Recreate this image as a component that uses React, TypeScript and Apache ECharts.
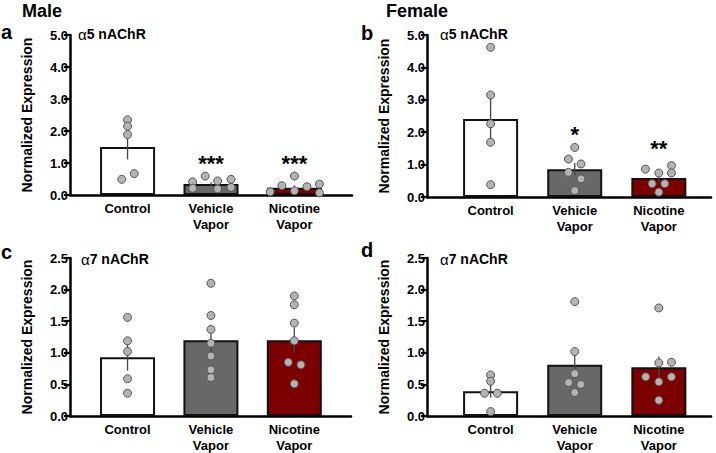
import React, { useEffect, useRef } from "react";
import * as echarts from "echarts";

const categories = ["Control", "Vehicle\nVapor", "Nicotine\nVapor"];
const barColors = ["#ffffff", "#686868", "#7d0000"];

// Panel a: Male α5
const aMeans = [1.5, 0.34, 0.23];
const aSem = [0.39, 0.06, 0.07];
const aDots = [
  [[0, 2.35], [0, 2.15], [0, 1.89], [0.08, 0.67], [-0.07, 0.49]],
  [[-0.22, 0.41], [-0.07, 0.59], [0.08, 0.44], [0.24, 0.49], [-0.22, 0.21], [0.08, 0.19], [0.24, 0.24]],
  [[-0.29, 0.1], [-0.15, 0.29], [0, 0.59], [0, 0.13], [0.15, 0.26], [0.3, 0.34], [0.3, 0.07]],
];
const aStars = ["", "***", "***"];
const aStarY = [0, 0.98, 0.98];

// Panel b: Female α5
const bMeans = [2.41, 0.86, 0.585];
const bSem = [0.71, 0.19, 0.11];
const bDots = [
  [[0, 4.62], [0, 3.15], [0, 2.26], [0, 1.69], [0, 0.38]],
  [[0, 1.53], [-0.075, 1.17], [0.075, 1.02], [-0.075, 0.76], [0.075, 0.56], [0, 0.2]],
  [[-0.16, 0.86], [0, 0.74], [0.15, 0.97], [0.15, 0.74], [-0.08, 0.41], [0.07, 0.41], [0, 0.15]],
];
const bStars = ["", "*", "**"];
const bStarY = [0, 1.93, 1.5];

// Panel c: Male α7
const cMeans = [0.93, 1.2, 1.2];
const cSem = [0.21, 0.2, 0.2];
const cDots = [
  [[0, 1.56], [0, 1.19], [0, 1.02], [0, 0.59], [0, 0.36]],
  [[0, 2.1], [0, 1.59], [0, 1.37], [0, 1.15], [0, 0.95], [0, 0.73], [0, 0.61]],
  [[0, 1.9], [0, 1.76], [0, 1.47], [0, 1.19], [-0.072, 0.85], [0.08, 0.81], [0, 0.51]],
];

// Panel d: Female α7
const dMeans = [0.39, 0.81, 0.77];
const dSem = [0.1, 0.22, 0.17];
const dDots = [
  [[0, 0.65], [0, 0.55], [-0.072, 0.36], [0.08, 0.36], [0, 0.07]],
  [[0, 1.81], [0, 1.02], [0, 0.67], [-0.072, 0.53], [0.072, 0.5], [0, 0.37]],
  [[0, 1.71], [0, 0.84], [0.15, 0.85], [-0.156, 0.62], [0.15, 0.62], [0, 0.54], [0, 0.25]],
];

const FONT = "'Liberation Sans', Arial, sans-serif";

type Panel = {
  means: number[];
  sem: number[];
  dots: number[][][];
  stars?: string[];
  starY?: number[];
  max: number;
  interval: number;
  grid: { left: number; top: number; width: number; height: number };
  xMin: number;
  xMax: number;
};

const panels: Panel[] = [
  { means: aMeans, sem: aSem, dots: aDots, stars: aStars, starY: aStarY, max: 5, interval: 1,
    grid: { left: 70, top: 35, width: 282, height: 160 }, xMin: -0.69, xMax: 2.69 },
  { means: bMeans, sem: bSem, dots: bDots, stars: bStars, starY: bStarY, max: 5, interval: 1,
    grid: { left: 427, top: 35, width: 284, height: 162 }, xMin: -0.756, xMax: 2.62 },
  { means: cMeans, sem: cSem, dots: cDots, max: 2.5, interval: 0.5,
    grid: { left: 70, top: 258, width: 281, height: 161 }, xMin: -0.69, xMax: 2.68 },
  { means: dMeans, sem: dSem, dots: dDots, max: 2.5, interval: 0.5,
    grid: { left: 427, top: 258, width: 284, height: 161 }, xMin: -0.756, xMax: 2.62 },
];

export default function App() {
  const ref = useRef<HTMLDivElement>(null);
  useEffect(() => {
    if (!ref.current) return;
    const chart = echarts.init(ref.current, null, { renderer: "svg" });
    const grids: any[] = [];
    const xAxes: any[] = [];
    const yAxes: any[] = [];
    const series: any[] = [];
    panels.forEach((p, i) => {
      grids.push({ ...p.grid, containLabel: false });
      xAxes.push({
        type: "value",
        gridIndex: i,
        min: p.xMin,
        max: p.xMax,
        splitLine: { show: false },
        axisTick: { show: false },
        axisLine: { show: true, onZero: false, lineStyle: { color: "#000", width: 2.5 } },
        axisLabel: {
          customValues: [0, 1, 2],
          formatter: (v: number) => categories[Math.round(v)] ?? "",
          color: "#000",
          fontWeight: "bold",
          fontSize: 13,
          fontFamily: FONT,
          lineHeight: 16,
          margin: 5,
        },
      });
      yAxes.push({
        type: "value",
        gridIndex: i,
        min: 0,
        max: p.max,
        interval: p.interval,
        splitLine: { show: false },
        axisLine: { show: true, onZero: false, lineStyle: { color: "#000", width: 2.5 } },
        axisTick: { show: true, length: 6, lineStyle: { color: "#000", width: 2.2 } },
        axisLabel: {
          formatter: (v: number) => v.toFixed(1),
          color: "#000",
          fontWeight: "bold",
          fontSize: 13,
          fontFamily: FONT,
          margin: 2,
        },
        name: "Normalized Expression",
        nameLocation: "middle",
        nameGap: 36,
        nameTextStyle: { color: "#000", fontWeight: "bold", fontSize: 14, fontFamily: FONT },
      });
      series.push({
        type: "bar",
        xAxisIndex: i,
        yAxisIndex: i,
        barWidth: 55,
        data: p.means.map((m, k) => ({
          value: [k, m],
          itemStyle: { color: barColors[k], borderColor: "#111", borderWidth: 2 },
        })),
        z: 2,
      });
      series.push({
        type: "custom",
        xAxisIndex: i,
        yAxisIndex: i,
        z: 3,
        data: p.means.map((m, k) => [k, m, p.sem[k]]),
        renderItem: (params: any, api: any) => {
          const x = api.value(0);
          const m = api.value(1);
          const s = api.value(2);
          const p1 = api.coord([x, m + s]);
          const p2 = api.coord([x, m - s]);
          return {
            type: "line",
            shape: { x1: p1[0], y1: p1[1], x2: p2[0], y2: p2[1] },
            style: { stroke: "#444", lineWidth: 1.3 },
          };
        },
      });
      const pts: number[][] = [];
      p.dots.forEach((g, k) => g.forEach((d) => pts.push([k + d[0], d[1]])));
      series.push({
        type: "scatter",
        xAxisIndex: i,
        yAxisIndex: i,
        z: 4,
        symbolSize: 8,
        itemStyle: { color: "#b3b3b3", borderColor: "#555", borderWidth: 1, opacity: 1 },
        data: pts,
      });
      if (p.stars && p.starY) {
        const stars = p.stars;
        series.push({
          type: "custom",
          xAxisIndex: i,
          yAxisIndex: i,
          z: 5,
          data: p.starY.map((y, k) => [k, y]),
          renderItem: (params: any, api: any) => {
            const c = api.coord([api.value(0), api.value(1)]);
            return {
              type: "text",
              x: c[0],
              y: c[1],
              style: {
                text: stars[params.dataIndex],
                align: "center",
                verticalAlign: "middle",
                fill: "#000",
                fontWeight: "bold",
                fontSize: 22,
                fontFamily: FONT,
              },
            };
          },
        });
      }
    });

    const txt = (x: number, y: number, text: string, size: number) => ({
      type: "text",
      x,
      y,
      style: {
        text,
        fontSize: size,
        fontWeight: "bold",
        fontFamily: FONT,
        fill: "#000",
        verticalAlign: "middle",
      },
    });
    const recep = (x: number, y: number, n: string) => ({
      type: "text",
      x,
      y,
      style: {
        text: "{g|α}{b|" + n + " nAChR}",
        fill: "#000",
        verticalAlign: "middle",
        rich: {
          g: { fontSize: 15, fontFamily: FONT, fontWeight: "normal", fill: "#000" },
          b: { fontSize: 14, fontFamily: FONT, fontWeight: "bold", fill: "#000" },
        },
      },
    });

    chart.setOption({
      animation: false,
      textStyle: { fontFamily: FONT },
      grid: grids,
      xAxis: xAxes,
      yAxis: yAxes,
      series,
      graphic: [
        txt(22, 11, "Male", 18),
        txt(386, 11, "Female", 18),
        txt(1, 32, "a", 20),
        txt(361, 33, "b", 20),
        txt(1, 252, "c", 20),
        txt(361, 250, "d", 20),
        recep(78, 34, "5"),
        recep(440, 34, "5"),
        recep(81, 259, "7"),
        recep(440, 259, "7"),
      ],
    });
    return () => chart.dispose();
  }, []);
  return (
    <div
      ref={ref}
      style={{ position: "fixed", left: 0, top: 0, width: 716, height: 453, background: "#fff" }}
    />
  );
}
